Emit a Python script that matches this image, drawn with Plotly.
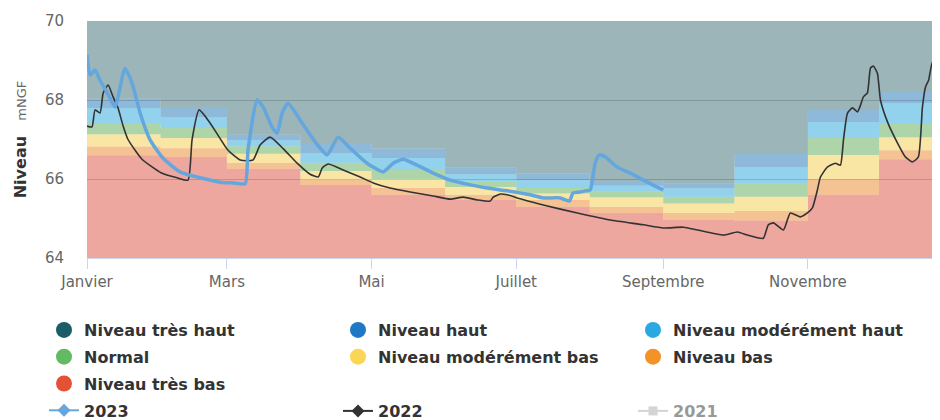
import pandas as pd
import plotly.graph_objects as go

# ---------------- data ----------------
MOIS_DEBUT = ["2023-01-01", "2023-02-01", "2023-03-01", "2023-04-01", "2023-05-01", "2023-06-01",
              "2023-07-01", "2023-08-01", "2023-09-01", "2023-10-01", "2023-11-01", "2023-12-01",
              "2024-01-01"]
TICK_DATES = ["2023-01-01", "2023-03-01", "2023-05-01", "2023-07-01", "2023-09-01", "2023-11-01"]
TICK_LABELS = ["Janvier", "Mars", "Mai", "Juillet", "Septembre", "Novembre"]

# upper limit of each band, per month (mNGF)
seuil_tres_bas = [66.60, 66.56, 66.26, 65.85, 65.60, 65.47, 65.30, 65.14, 64.96, 64.95, 65.60, 66.50]
seuil_bas = [66.82, 66.78, 66.41, 65.99, 65.77, 65.60, 65.47, 65.30, 65.14, 65.19, 66.00, 66.73]
seuil_mod_bas = [67.13, 67.04, 66.64, 66.20, 66.00, 65.80, 65.63, 65.54, 65.38, 65.55, 66.61, 67.06]
seuil_normal = [67.42, 67.29, 66.83, 66.41, 66.23, 65.93, 65.77, 65.68, 65.55, 65.90, 67.04, 67.42]
seuil_mod_haut = [67.80, 67.57, 66.98, 66.66, 66.53, 66.12, 65.97, 65.83, 65.76, 66.30, 67.44, 67.92]
seuil_haut = [68.03, 67.82, 67.12, 66.91, 66.77, 66.30, 66.14, 65.95, 65.88, 66.63, 67.75, 68.20]
seuil_tres_haut = [71.0, 71.0, 71.0, 71.0, 71.0, 71.0, 71.0, 71.0, 71.0, 71.0, 71.0, 71.0]

# 2023 series: day of year (0 = 1 Jan) and level
jours_2023 = [0, 1.3, 3.4, 5.5, 8.4, 11.8, 16, 19, 22.4, 26.6, 32, 39.2, 47.7, 56.1, 61.6, 66.7,
              67.9, 71.7, 74.3, 78, 80.2, 82.3, 84.8, 90.7, 96.2, 101.3, 105.9, 111, 118.1, 124.9,
              129.1, 133.3, 139.2, 146, 153.2, 160.3, 168.8, 177.2, 186.9, 192.4, 199.6, 203.4,
              205, 208, 210.1, 212.2, 214.3, 216, 218.6, 223.6, 229.1, 236.3, 243]
niveau_2023 = [69.14, 68.63, 68.76, 68.50, 68.20, 67.82, 68.80, 68.43, 67.67, 66.99, 66.53, 66.18,
               66.03, 65.92, 65.90, 65.88, 66.73, 68.00, 67.82, 67.32, 67.16, 67.67, 67.92, 67.42,
               66.94, 66.61, 67.06, 66.78, 66.40, 66.18, 66.40, 66.50, 66.35, 66.15, 65.97, 65.87,
               65.77, 65.70, 65.60, 65.52, 65.52, 65.44, 65.65, 65.67, 65.70, 65.72, 66.40, 66.61,
               66.56, 66.30, 66.15, 65.92, 65.72]

# 2022 series
jours_2022 = [0, 2.1, 3.4, 5.5, 6.8, 8.9, 11, 13.1, 15.2, 17.3, 23.2, 31.2, 38, 42.6, 44.3, 47.3,
              51.9, 59.3, 64.6, 70, 73, 77.2, 82.7, 88.6, 94.1, 97.5, 99.2, 101.7, 108, 115.2,
              120.7, 127.8, 136.3, 146, 153.2, 158.6, 164.6, 170, 171.3, 174.3, 177.2, 182.7,
              192.4, 206.8, 220.7, 234.6, 243, 251.5, 257.4, 268.4, 274.3, 278.5, 285.2, 287.3,
              289.5, 293.7, 296.6, 300.8, 303.8, 305.9, 308, 309.3, 312.2, 315.6, 317.7, 319,
              320.7, 322.8, 324.9, 326.2, 327.4, 329.1, 330.4, 331.6, 333.3, 334.6, 337.6, 341.8,
              345.1, 348.1, 350.6, 352.3, 353.6, 354.9, 356.5, 357.8, 359.1, 361.2]
niveau_2022 = [67.34, 67.32, 67.75, 67.67, 68.17, 68.38, 68.08, 67.80, 67.35, 67.00, 66.50, 66.16,
               66.03, 65.97, 66.99, 67.75, 67.42, 66.74, 66.48, 66.48, 66.86, 67.06, 66.77, 66.40,
               66.12, 66.05, 66.28, 66.38, 66.23, 66.05, 65.90, 65.77, 65.67, 65.57, 65.49, 65.54,
               65.47, 65.44, 65.54, 65.62, 65.60, 65.50, 65.34, 65.14, 64.96, 64.84, 64.76, 64.78,
               64.71, 64.58, 64.66, 64.58, 64.50, 64.84, 64.89, 64.71, 65.14, 65.04, 65.14, 65.27,
               65.72, 66.05, 66.30, 66.40, 66.35, 66.99, 67.67, 67.80, 67.70, 67.87, 68.08, 68.18,
               68.81, 68.86, 68.68, 68.00, 67.44, 66.91, 66.56, 66.43, 66.56, 67.82, 68.33, 68.50,
               68.96, 68.84, 68.18, 67.90]

# ---------------- figure ----------------
ORIGIN = pd.Timestamp("2023-01-01")
x_2023 = ORIGIN + pd.to_timedelta(jours_2023, unit="D")
x_2022 = ORIGIN + pd.to_timedelta(jours_2022, unit="D")

FONT = "DejaVu Sans"

bands = [
    # name, thresholds, fill rgba, legend colour, legend id
    ("Niveau très bas", seuil_tres_bas, "rgba(221,79,61,0.5)", "#e45236", "legend"),
    ("Niveau bas", seuil_bas, "rgba(235,133,41,0.5)", "#f39227", "legend3"),
    ("Niveau modérément bas", seuil_mod_bas, "rgba(243,205,75,0.5)", "#fbd654", "legend2"),
    ("Normal", seuil_normal, "rgba(91,171,83,0.5)", "#62bb62", "legend"),
    ("Niveau modérément haut", seuil_mod_haut, "rgba(37,165,217,0.5)", "#2aa9e0", "legend3"),
    ("Niveau haut", seuil_haut, "rgba(31,115,177,0.5)", "#1f78c6", "legend2"),
    ("Niveau très haut", seuil_tres_haut, "rgba(57,107,115,0.5)", "#1a5d69", "legend"),
]

fig = go.Figure()
for i, (name, seuils, fill, _, _) in enumerate(bands):
    fig.add_trace(go.Scatter(
        x=MOIS_DEBUT, y=seuils + [seuils[-1]], mode="lines",
        line=dict(width=0, shape="hv"), fill="tozeroy" if i == 0 else "tonexty",
        fillcolor=fill, showlegend=False, hoverinfo="skip", name=name))

fig.add_trace(go.Scatter(x=x_2022, y=niveau_2022, mode="lines", name="2022",
                         line=dict(color="#333333", width=1.6, shape="spline", smoothing=0.5),
                         showlegend=False))
fig.add_trace(go.Scatter(x=x_2023, y=niveau_2023, mode="lines", name="2023",
                         line=dict(color="#64a6de", width=3.5, shape="spline", smoothing=0.5),
                         showlegend=False))

# legend entries (legend-only traces)
legend_order = ["Niveau très haut", "Niveau haut", "Niveau modérément haut", "Normal",
                "Niveau modérément bas", "Niveau bas", "Niveau très bas"]
lookup = {b[0]: b for b in bands}
for k, name in enumerate(legend_order):
    _, _, _, col, lg = lookup[name]
    fig.add_trace(go.Scatter(x=[None], y=[None], mode="markers", name=name,
                             marker=dict(symbol="circle", size=16, color=col),
                             legend=lg, legendgroup="g%d" % k, showlegend=True))

fig.add_trace(go.Scatter(x=[None], y=[None], mode="lines+markers", name="2023",
                         line=dict(color="#64a6de", width=2), marker=dict(symbol="diamond", size=10, color="#64a6de"),
                         legend="legend", legendgroup="y2023"))
fig.add_trace(go.Scatter(x=[None], y=[None], mode="lines+markers", name="2022",
                         line=dict(color="#333333", width=2), marker=dict(symbol="diamond", size=10, color="#333333"),
                         legend="legend4", legendgroup="y2022"))
fig.add_trace(go.Scatter(x=[None], y=[None], mode="lines+markers", name="2021",
                         line=dict(color="#aaaaaa", width=2), marker=dict(symbol="square", size=9, color="#aaaaaa"),
                         legend="legend5", legendgroup="y2021", visible="legendonly"))

# The page body adds an 8 px offset, so the figure is laid out in page pixels minus 8.
OFF = 8
FIG_W, FIG_H = 940 - OFF, 420 - OFF
L, T = 87 - OFF, 21 - OFF
W, H = 940 - 87, 258 - 21


def px_x(px):  # page pixel -> paper x
    return (px - OFF - L) / W


def px_y(py):  # page pixel -> paper y
    return (T + H - (py - OFF)) / H


legend_common = dict(orientation="v", xanchor="left", yanchor="top", bgcolor="rgba(0,0,0,0)",
                     borderwidth=0, tracegroupgap=3, itemclick=False, itemdoubleclick=False,
                     font=dict(family=FONT, size=16, color="#333333", weight="bold"))
row1_top = 313
row4_top = 394

fig.update_layout(
    width=FIG_W, height=FIG_H,
    margin=dict(l=L, r=FIG_W - L - W, t=T, b=FIG_H - T - H, autoexpand=False),
    paper_bgcolor="white", plot_bgcolor="white",
    font=dict(family=FONT, color="#666666"),
    xaxis=dict(type="date", range=["2023-01-01", "2023-12-26 17:00"],
               tickvals=TICK_DATES, ticktext=TICK_LABELS,
               showgrid=False, showline=True, linecolor="#ccd6eb", linewidth=1,
               ticks="outside", ticklen=10, tickcolor="#ccd6eb",
               tickfont=dict(size=15, color="#666666"), zeroline=False, fixedrange=True),
    yaxis=dict(range=[64, 70], tickvals=[64, 66, 68, 70], showgrid=True, gridcolor="#c4c4c4",
               gridwidth=1, zeroline=False, showline=False, ticks="", ticklabelstandoff=22,
               tickfont=dict(size=15, color="#666666"), fixedrange=True,
               title=dict(text="<b>Niveau</b>\u00a0\u00a0\u00a0<span style='font-size:13px;color:#666666;font-weight:normal'>mNGF</span>",
                          font=dict(size=16, color="#333333", family=FONT), standoff=14)),
    legend=dict(legend_common, x=px_x(44), y=px_y(row1_top)),
    legend2=dict(legend_common, x=px_x(338), y=px_y(row1_top)),
    legend3=dict(legend_common, x=px_x(633), y=px_y(row1_top)),
    legend4=dict(legend_common, x=px_x(338), y=px_y(row4_top)),
    legend5=dict(legend_common, x=px_x(633), y=px_y(row4_top)),
    showlegend=True,
)

fig.write_html("out.html")
